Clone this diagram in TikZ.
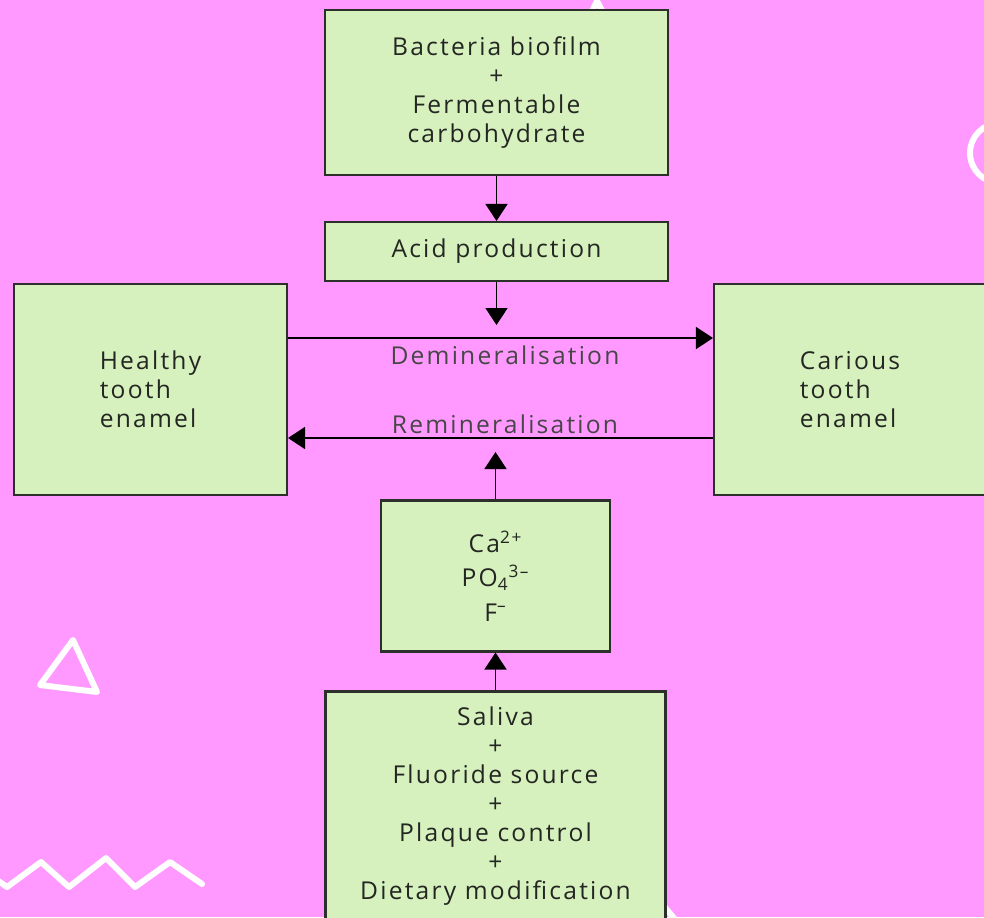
\documentclass[tikz,border=0pt]{standalone}
\usepackage{fontspec}
\setmainfont{Open Sans}[LetterSpace=9.0]
\usepackage{tikz}
\usetikzlibrary{arrows.meta,calc,positioning}
\definecolor{bgpink}{RGB}{255,153,255}
\definecolor{boxgreen}{RGB}{214,240,190}
\definecolor{boxline}{RGB}{45,48,42}
\definecolor{txtgrey}{RGB}{35,38,33}
\definecolor{lblgrey}{RGB}{70,70,70}

\begin{document}
\begin{tikzpicture}[x=0.02cm, y=-0.02cm,
			box/.style = {draw=boxline, fill=boxgreen, line width=1.2pt, inner sep=2pt,
					align=center, text=txtgrey, font=\fontsize{14}{16.5}\selectfont},
			lbl/.style = {text=lblgrey, inner sep=1pt, font=\fontsize{14}{16.5}\selectfont},
			flow/.style = {-{Triangle[width=0.44cm,length=0.34cm]}, black, line width=1pt},
			deco/.style = {draw=white, line width=3.4pt, line cap=round, line join=round}
		]
		\useasboundingbox (0,0) rectangle (984,917);
		\clip (0,0) rectangle (984,917);
		\fill[bgpink] (0,0) rectangle (984,917);
		\draw[deco] (73,640) -- (97,692) -- (40,685) -- cycle;
		\draw[deco] (-6,878) -- (7,887) -- (41,862) -- (69,887) -- (106,858) -- (135,887) -- (170,862) -- (202,884);
		\draw[deco] (1000,153) circle (0.6cm);
		\draw[deco] (575,45) -- (597,1) -- (620,45);
		\draw[deco] (640,878) -- (684,930);
		\node [box, minimum width=6.86cm, minimum height=3.3cm] (bio) at (496.5,92.5)
			{Bacteria biofilm\\+\\Fermentable\\carbohydrate};
		\node [box, minimum width=6.86cm, minimum height=1.18cm] (acid) at (496.5,251.5) {Acid production};
		\node [box, align=left, minimum width=5.46cm, minimum height=4.22cm] (healthy) at (150.5,389.5)
			{Healthy\\tooth\\enamel};
		\node [box, align=left, minimum width=5.44cm, minimum height=4.22cm] (carious) at (850,389.5)
			{Carious\\tooth\\enamel};
		\node [box, minimum width=4.58cm, minimum height=3.02cm] (ions) at (495.5,576)
			{Ca\textsuperscript{2+}\\[3pt]PO\textsubscript{4}\textsuperscript{3–}\\[3pt]F\textsuperscript{–}};
		\node [box, minimum width=6.8cm, minimum height=4.58cm] (diet) at (495.5,806)
			{Saliva\\+\\Fluoride source\\+\\Plaque control\\+\\Dietary modification};
		\coordinate (acidtip) at (496.5,325);
		\coordinate (demin) at (500,338);
		\coordinate (remin) at (500,438);
		\coordinate (iontip) at (495.5,452);
		\draw[flow] (bio) -- (acid);
		\draw[flow] (acid) -- (acidtip);
		\draw[flow] (healthy.east |- demin) -- (carious.west |- demin);
		\draw[flow] (carious.west |- remin) -- (healthy.east |- remin);
		\draw[flow] (ions) -- (iontip);
		\draw[flow] (diet) -- (ions);
		\node [lbl] (deminlbl) at (505,355) {Demineralisation};
		\node [lbl] (reminlbl) at (505,424) {Remineralisation};
	\end{tikzpicture}
\end{document}
